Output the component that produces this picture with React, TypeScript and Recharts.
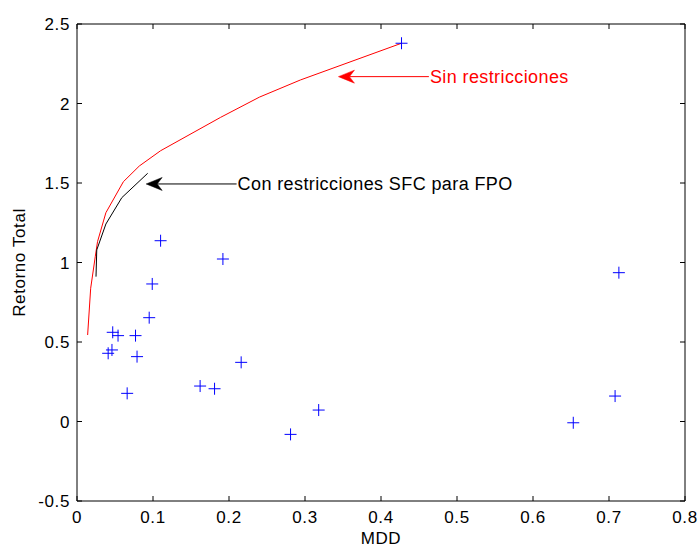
import React from 'react';
import { ScatterChart, Scatter, XAxis, YAxis, ReferenceLine } from 'recharts';

const xTicks = [0, 0.1, 0.2, 0.3, 0.4, 0.5, 0.6, 0.7, 0.8];
const yTicks = [-0.5, 0, 0.5, 1, 1.5, 2, 2.5];

// individual assets (blue crosses)
const assetMDD = [0.427, 0.110, 0.192, 0.099, 0.713, 0.095, 0.047, 0.054, 0.077, 0.046, 0.041, 0.079, 0.216, 0.066, 0.162, 0.181, 0.318, 0.281, 0.708, 0.653];
const assetRet = [2.379, 1.137, 1.022, 0.865, 0.936, 0.653, 0.561, 0.540, 0.540, 0.450, 0.429, 0.408, 0.372, 0.177, 0.223, 0.206, 0.072, -0.081, 0.160, -0.008];

// frontier without restrictions (red)
const redMDD = [0.014, 0.018, 0.024, 0.027, 0.038, 0.061, 0.082, 0.110, 0.189, 0.240, 0.294, 0.427];
const redRet = [0.544, 0.838, 1.036, 1.131, 1.313, 1.508, 1.607, 1.703, 1.913, 2.040, 2.148, 2.379];

// frontier with SFC restrictions (black)
const blackMDD = [0.025, 0.026, 0.038, 0.059, 0.093];
const blackRet = [0.911, 1.079, 1.242, 1.408, 1.561];

// annotations
const noteText = ['Sin restricciones', 'Con restricciones SFC para FPO'];
const noteColor = ['#ff0000', '#000000'];
const noteTipX = [0.344, 0.091];
const noteTailX = [0.463, 0.210];
const noteY = [2.169, 1.494];

const xTitle = 'MDD';
const yTitle = 'Retorno Total';

const assets = assetMDD.map((x, i) => ({ x, y: assetRet[i] }));
const red = redMDD.map((x, i) => ({ x, y: redRet[i] }));
const black = blackMDD.map((x, i) => ({ x, y: blackRet[i] }));

const X_MIN = xTicks[0];
const X_MAX = xTicks[xTicks.length - 1];
const Y_MIN = yTicks[0];
const Y_MAX = yTicks[yTicks.length - 1];

const FONT = '"Liberation Sans", Arial, Helvetica, sans-serif';
const FS = 17;
const LS = 0.6;
const TICK_IN = 5;

const Plus = (p: any) => {
  const { cx, cy } = p;
  if (cx == null || cy == null) return <g />;
  return (
    <path d={`M${cx - 6},${cy}H${cx + 6}M${cx},${cy - 6}V${cy + 6}`} stroke="#0000ff" strokeWidth={1} fill="none" />
  );
};

const NoShape = () => <g />;

const BottomTick = (p: any) => {
  const { x, y, payload, index } = p;
  return (
    <g>
      <text x={x} y={y} dy="0.71em" textAnchor="middle" fill="#000" fontSize={FS} fontFamily={FONT} letterSpacing={LS}>
        {String(payload.value)}
      </text>
      {index === 4 ? (
        <text x={x} y={y + 21} dy="0.71em" textAnchor="middle" fill="#000" fontSize={FS} fontFamily={FONT} letterSpacing={LS}>
          {xTitle}
        </text>
      ) : null}
    </g>
  );
};

const LeftTick = (p: any) => {
  const { x, y, payload } = p;
  return (
    <text x={x} y={y} dy="0.355em" textAnchor="end" fill="#000" fontSize={FS} fontFamily={FONT} letterSpacing={LS}>
      {String(payload.value)}
    </text>
  );
};

// frame (top & right edges) plus inward tick marks, drawn from the reference line ends
const frameShape = (p: any) => {
  const { x1, y1, x2, y2 } = p;
  if (x1 == null) return <g />;
  return <line x1={x1} y1={y1} x2={x2} y2={y2} stroke="#000000" strokeWidth={1} />;
};

const vTickShape = (p: any) => {
  const { x1, y1, y2 } = p;
  if (x1 == null) return <g />;
  const top = Math.min(y1, y2);
  const bot = Math.max(y1, y2);
  return (
    <g>
      <line x1={x1} y1={bot} x2={x1} y2={bot - TICK_IN} stroke="#000000" strokeWidth={1} />
      <line x1={x1} y1={top} x2={x1} y2={top + TICK_IN} stroke="#000000" strokeWidth={1} />
    </g>
  );
};

const hTickShape = (p: any) => {
  const { x1, y1, x2 } = p;
  if (x1 == null) return <g />;
  const l = Math.min(x1, x2);
  const r = Math.max(x1, x2);
  return (
    <g>
      <line x1={l} y1={y1} x2={l + TICK_IN} y2={y1} stroke="#000000" strokeWidth={1} />
      <line x1={r} y1={y1} x2={r - TICK_IN} y2={y1} stroke="#000000" strokeWidth={1} />
    </g>
  );
};

const yTitleShape = (p: any) => {
  const { y1, y2 } = p;
  if (y1 == null) return <g />;
  const cy = (y1 + y2) / 2;
  const cx = 19;
  return (
    <text x={cx} y={cy} dy="0.355em" textAnchor="middle" transform={`rotate(-90 ${cx} ${cy})`} fill="#000" fontSize={FS} fontFamily={FONT} letterSpacing={LS}>
      {yTitle}
    </text>
  );
};

const makeArrow = (i: number) => (p: any) => {
  const { x1, y1, x2, y2 } = p;
  if (x1 == null) return <g />;
  const c = noteColor[i];
  const L = 16;
  const W = 6.5;
  const N = 11;
  return (
    <g>
      <line x1={x1 + N} y1={y1} x2={x2} y2={y2} stroke={c} strokeWidth={1} />
      <path d={`M${x1},${y1}L${x1 + L},${y1 - W}L${x1 + N},${y1}L${x1 + L},${y1 + W}Z`} fill={c} stroke={c} strokeWidth={0.5} />
      <text x={x2 + 1} y={y2} dy="0.355em" textAnchor="start" fill={c} fontSize={18} fontFamily={FONT} letterSpacing={0.4}>
        {noteText[i]}
      </text>
    </g>
  );
};

export default function App() {
  return (
    <div style={{ position: 'absolute', left: 0, top: 0 }}>
      <ScatterChart width={698} height={547} margin={{ top: 24, right: 13, bottom: 0, left: 0 }}>
        <XAxis
          xAxisId="b"
          type="number"
          dataKey="x"
          domain={[X_MIN, X_MAX]}
          ticks={xTicks}
          height={46}
          tickSize={0}
          tickMargin={10}
          tickLine={false}
          axisLine={{ stroke: '#000000', strokeWidth: 1 }}
          tick={<BottomTick />}
        />
        <YAxis
          yAxisId="l"
          type="number"
          dataKey="y"
          domain={[Y_MIN, Y_MAX]}
          ticks={yTicks}
          width={77}
          tickSize={0}
          tickMargin={7}
          tickLine={false}
          axisLine={{ stroke: '#000000', strokeWidth: 1 }}
          tick={<LeftTick />}
        />

        <ReferenceLine xAxisId="b" yAxisId="l" segment={[{ x: X_MIN, y: Y_MAX }, { x: X_MAX, y: Y_MAX }]} shape={frameShape} ifOverflow="visible" />
        <ReferenceLine xAxisId="b" yAxisId="l" segment={[{ x: X_MAX, y: Y_MIN }, { x: X_MAX, y: Y_MAX }]} shape={frameShape} ifOverflow="visible" />
        {xTicks.map((t) => (
          <ReferenceLine key={`xt${t}`} xAxisId="b" yAxisId="l" segment={[{ x: t, y: Y_MIN }, { x: t, y: Y_MAX }]} shape={vTickShape} ifOverflow="visible" />
        ))}
        {yTicks.map((t) => (
          <ReferenceLine key={`yt${t}`} xAxisId="b" yAxisId="l" segment={[{ x: X_MIN, y: t }, { x: X_MAX, y: t }]} shape={hTickShape} ifOverflow="visible" />
        ))}
        <ReferenceLine xAxisId="b" yAxisId="l" segment={[{ x: X_MIN, y: Y_MIN }, { x: X_MIN, y: Y_MAX }]} shape={yTitleShape} ifOverflow="visible" />

        <Scatter
          data={red}
          xAxisId="b"
          yAxisId="l"
          line={{ stroke: '#ff0000', strokeWidth: 1 }}
          lineType="joint"
          shape={<NoShape />}
          isAnimationActive={false}
        />
        <Scatter
          data={black}
          xAxisId="b"
          yAxisId="l"
          line={{ stroke: '#000000', strokeWidth: 1 }}
          lineType="joint"
          shape={<NoShape />}
          isAnimationActive={false}
        />
        <Scatter data={assets} xAxisId="b" yAxisId="l" shape={<Plus />} isAnimationActive={false} />
        {noteText.map((t, i) => (
          <ReferenceLine
            key={t}
            xAxisId="b"
            yAxisId="l"
            segment={[
              { x: noteTipX[i], y: noteY[i] },
              { x: noteTailX[i], y: noteY[i] },
            ]}
            shape={makeArrow(i)}
            ifOverflow="visible"
          />
        ))}
      </ScatterChart>
    </div>
  );
}
